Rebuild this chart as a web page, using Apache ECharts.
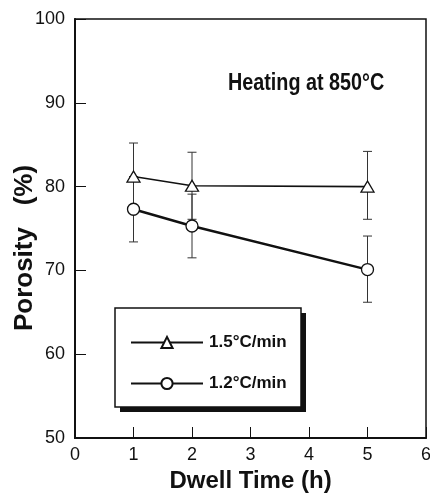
<!DOCTYPE html>
<html>
<head>
<meta charset="utf-8">
<script src="https://cdn.jsdelivr.net/npm/echarts@6/dist/echarts.min.js"></script>
<style>
html,body{margin:0;padding:0;background:#fff;}
#c{width:430px;height:497px;}
</style>
</head>
<body>
<div id="c"></div>
<script>
const hours = [1, 2, 5];
const rate15 = [81.2, 80.1, 80.0];
const high15 = [85.2, 84.1, 84.2];
const low15 = [77.2, 76.1, 76.1];
const rate12 = [77.3, 75.3, 70.1];
const high12 = [81.2, 79.1, 74.1];
const low12 = [73.4, 71.5, 66.2];
const xTicks = [0, 1, 2, 3, 4, 5, 6];
const yTicks = [50, 60, 70, 80, 90, 100];
const seriesNames = ['1.5°C/min', '1.2°C/min'];

const sans = '"Liberation Sans", Arial, sans-serif';

function pairs(ys) { return hours.map((h, i) => [h, ys[i]]); }
function errs(lo, hi) { return hours.map((h, i) => [h, lo[i], hi[i]]); }

function errRender(params, api) {
  const x = api.value(0), lo = api.value(1), hi = api.value(2);
  const pt = api.coord([x, hi]), pb = api.coord([x, lo]);
  const w = 4.5;
  const st = { stroke: '#333', lineWidth: 1 };
  return {
    type: 'group',
    children: [
      { type: 'line', shape: { x1: pt[0], y1: pt[1], x2: pb[0], y2: pb[1] }, style: st },
      { type: 'line', shape: { x1: pt[0] - w, y1: pt[1], x2: pt[0] + w, y2: pt[1] }, style: st },
      { type: 'line', shape: { x1: pb[0] - w, y1: pb[1], x2: pb[0] + w, y2: pb[1] }, style: st }
    ]
  };
}

const chart = echarts.init(document.getElementById('c'), null, { renderer: 'canvas' });
chart.setOption({
  backgroundColor: '#fff',
  animation: false,
  grid: { left: 75, right: 4, top: 19, bottom: 59, outerBoundsMode: 'none', containLabel: false,
          show: true, borderColor: '#111', borderWidth: 1.5, backgroundColor: 'transparent' },
  xAxis: {
    type: 'value', min: 0, max: 6, interval: 1,
    name: 'Dwell Time (h)', nameLocation: 'middle', nameGap: 30,
    nameTextStyle: { fontFamily: sans, fontWeight: 'bold', fontSize: 24, color: '#111' },
    axisLine: { show: true, onZero: false, lineStyle: { color: '#111', width: 2 } },
    axisTick: { show: true, inside: true, length: 11, lineStyle: { color: '#111', width: 1 } },
    axisLabel: { fontFamily: sans, fontSize: 18, color: '#111', margin: 8, formatter: v => xTicks.includes(v) ? String(v) : '' },
    splitLine: { show: false }
  },
  yAxis: {
    type: 'value', min: 50, max: 100, interval: 10,
    name: 'Porosity   (%)', nameLocation: 'middle', nameGap: 37, nameMoveOverlap: false,
    nameTextStyle: { fontFamily: sans, fontWeight: 'bold', fontSize: 26, color: '#111', padding: [0, 39, 0, 0] },
    axisLine: { show: true, onZero: false, lineStyle: { color: '#111', width: 2 } },
    axisTick: { show: true, inside: true, length: 11, lineStyle: { color: '#111', width: 1 } },
    axisLabel: { fontFamily: sans, fontSize: 18, color: '#111', margin: 10, formatter: v => yTicks.includes(v) ? String(v) : '' },
    splitLine: { show: false }
  },
  legend: {
    orient: 'vertical', left: 130, top: 334, padding: 0, z: 10,
    itemWidth: 72, itemHeight: 14, itemGap: 24,
    data: seriesNames,
    textStyle: { fontFamily: sans, fontWeight: 'bold', fontSize: 17, color: '#111', padding: [0, 0, 0, 1] }
  },
  graphic: [
    { type: 'rect', z: 5, shape: { x: 120, y: 313, width: 186, height: 99 }, style: { fill: '#111' } },
    { type: 'rect', z: 6, shape: { x: 115, y: 308, width: 186, height: 99 }, style: { fill: '#fff', stroke: '#111', lineWidth: 1.5 } },
    { type: 'text', z: 10, x: 228, y: 84, scaleX: 0.86,
      style: { text: 'Heating at 850°C', x: 0, y: 0, font: 'bold 23px ' + sans, fill: '#111', textVerticalAlign: 'middle', verticalAlign: 'middle' } }
  ],
  series: [
    { type: 'custom', name: 'err15', z: 1, renderItem: errRender, data: errs(low15, high15), silent: true },
    { type: 'custom', name: 'err12', z: 1, renderItem: errRender, data: errs(low12, high12), silent: true },
    {
      type: 'line', name: seriesNames[0], data: pairs(rate15), z: 3,
      symbol: 'triangle', symbolSize: [13, 11], showAllSymbol: true,
      lineStyle: { color: '#111', width: 1.6 },
      itemStyle: { color: '#fff', borderColor: '#111', borderWidth: 1.3 }
    },
    {
      type: 'line', name: seriesNames[1], data: pairs(rate12), z: 3,
      symbol: 'circle', symbolSize: 12, showAllSymbol: true,
      lineStyle: { color: '#111', width: 2.4 },
      itemStyle: { color: '#fff', borderColor: '#111', borderWidth: 1.3 }
    }
  ]
});
</script>
</body>
</html>
